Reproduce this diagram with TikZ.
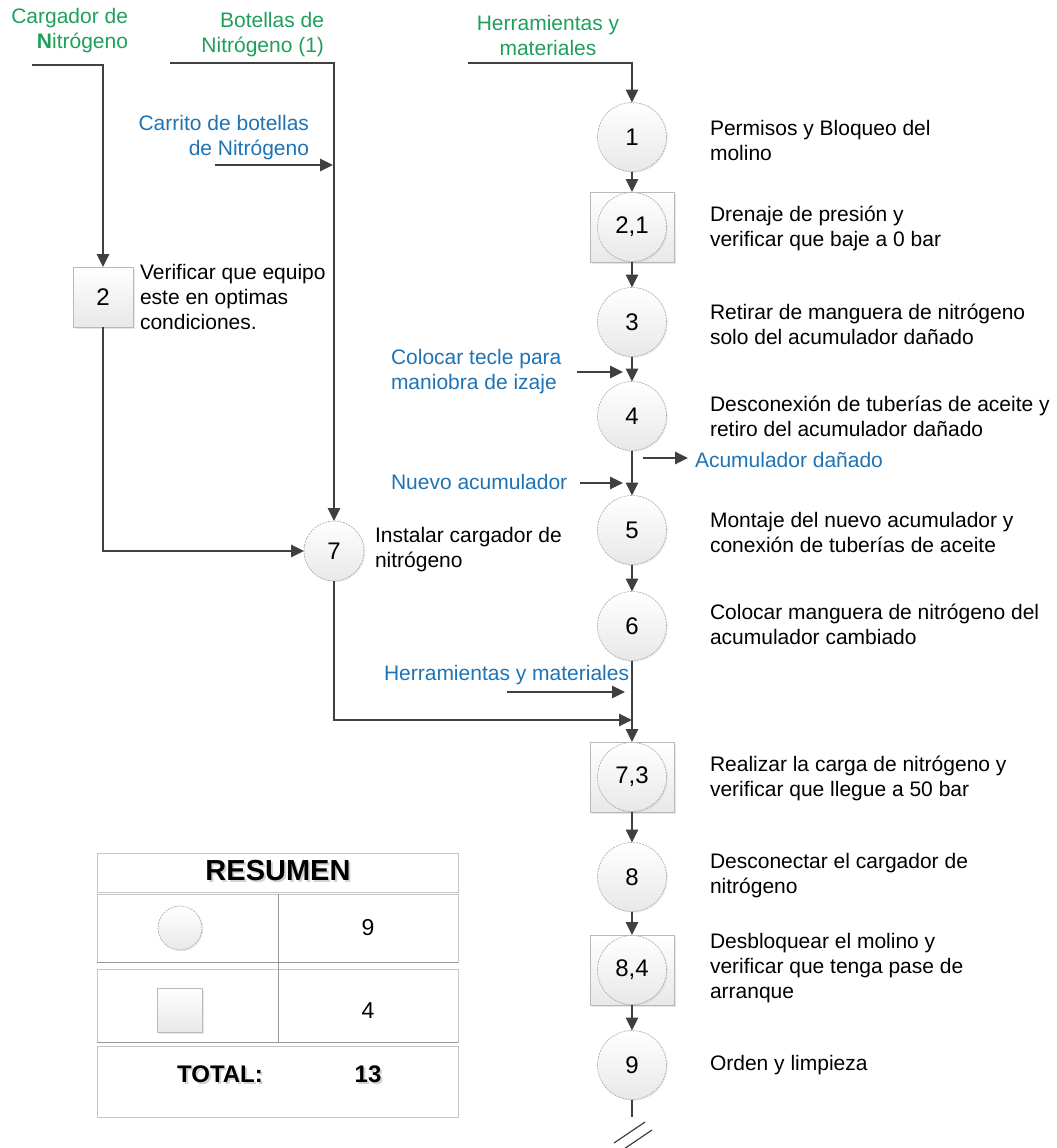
\documentclass[tikz,border=0pt]{standalone}
\usepackage{fontspec}
\setmainfont{Liberation Sans}
\usetikzlibrary{arrows.meta,shadows}
\definecolor{lblgreen}{RGB}{30,160,90}
\definecolor{lblblue}{RGB}{30,115,180}
\definecolor{linegray}{RGB}{64,64,64}
% bold text with a soft offset shadow underneath, set as one piece of text
\newcommand{\shadowtext}[1]{\makebox[0pt][l]{\hspace{2pt}\raisebox{-2pt}{\textcolor{gray!35}{#1}}}#1}
\begin{document}
\begin{tikzpicture}[x=1pt,y=-1pt,
  every node/.style={font=\fontsize{21}{25}\selectfont, inner sep=0pt, outer sep=0pt},
  flow/.style={draw=linegray, line width=1.4pt},
  arr/.style={flow, -{Triangle[length=13pt,width=12.5pt]}},
  opshade/.style={top color=white, bottom color=black!9},
  opcircle/.style={circle, minimum size=69pt, draw=gray!70, line width=0.6pt,
    dash pattern=on 2pt off 1pt, opshade, font=\fontsize{24}{25}\selectfont,
    drop shadow={opacity=0.15, shadow xshift=1.2pt, shadow yshift=-1.2pt}},
  smallcircle/.style={opcircle, minimum size=60pt},
  opbox/.style={rectangle, minimum width=84pt, minimum height=70pt, draw=gray!55,
    line width=0.6pt, opshade,
    drop shadow={opacity=0.2, shadow xshift=1.5pt, shadow yshift=-1.5pt}},
  inspbox/.style={rectangle, minimum width=60pt, minimum height=60pt, draw=gray!55,
    line width=0.6pt, opshade, font=\fontsize{24}{25}\selectfont,
    drop shadow={opacity=0.2, shadow xshift=1.5pt, shadow yshift=-1.5pt}},
  desc/.style={anchor=west, align=left},
  inlabel/.style={text=lblgreen},
  extlabel/.style={text=lblblue},
  tblline/.style={draw=gray!45, line width=0.9pt},
  tbldark/.style={draw=gray!80, line width=0.9pt},
]
\useasboundingbox (0,0) rectangle (1057,1148);

% ---------- main column ----------
\node[opcircle] (c1) at (632,137) {1};
\node[opbox] (s21) at (632,227) {};
\node[opcircle] (s21c) at (632,227) {2,1};
\node[opcircle] (c3) at (632,322) {3};
\node[opcircle] (c4) at (632,416) {4};
\node[opcircle] (c5) at (632,530) {5};
\node[opcircle] (c6) at (632,626) {6};
\node[opbox] (s73) at (632,777) {};
\node[opcircle] (s73c) at (632,777) {7,3};
\node[opcircle] (c8) at (632,877) {8};
\node[opbox] (s84) at (632,970) {};
\node[opcircle] (s84c) at (632,970) {8,4};
\node[opcircle] (c9) at (632,1065) {9};

% ---------- left branches ----------
\node[inspbox] (s2) at (103,297) {2};
\node[smallcircle] (c7) at (334,551) {7};

% ---------- descriptions ----------
\node[desc] (t1) at (710,140) {Permisos y Bloqueo del\\molino};
\node[desc] (t21) at (710,228) {Drenaje de presión y\\verificar que baje a 0 bar};
\node[desc] (t3) at (710,324) {Retirar de manguera de nitrógeno\\solo del acumulador dañado};
\node[desc] (t4) at (710,416) {Desconexión de tuberías de aceite y\\retiro del acumulador dañado};
\node[desc] (t5) at (710,532) {Montaje del nuevo acumulador y\\conexión de tuberías de aceite};
\node[desc] (t6) at (710,624) {Colocar manguera de nitrógeno del\\acumulador cambiado};
\node[desc] (t73) at (710,778) {Realizar la carga de nitrógeno y\\verificar que llegue a 50 bar};
\node[desc] (t8) at (710,876) {Desconectar el cargador de\\nitrógeno};
\node[desc] (t84) at (710,968) {Desbloquear el molino y\\verificar que tenga pase de\\arranque};
\node[desc] (t9) at (710,1065) {Orden y limpieza};
\node[desc] (t2) at (140,297) {Verificar que equipo\\este en optimas\\condiciones.};
\node[desc] (t7) at (375,550) {Instalar cargador de\\nitrógeno};

% ---------- inputs (green) ----------
\node[inlabel, anchor=east, align=right] (lcarg) at (128,31) {Cargador de\\\textbf{N}itrógeno};
\node[inlabel, anchor=east, align=right] (lbot) at (324,35) {Botellas de\\Nitrógeno (1)};
\node[inlabel, align=center] (lherr) at (548,35) {Herramientas y\\materiales};

% ---------- external items (blue) ----------
\node[extlabel, anchor=east, align=right] (lcarr) at (309,138) {Carrito de botellas\\de Nitrógeno};
\node[extlabel, desc] (ltecle) at (391,372) {Colocar tecle para\\maniobra de izaje};
\node[extlabel, desc] (lnuevo) at (391,482) {Nuevo acumulador};
\node[extlabel, desc] (lherr2) at (384,675) {Herramientas y materiales};
\node[extlabel, desc] (ldan) at (695,460) {Acumulador dañado};

% ---------- connector end points ----------
\coordinate (h0) at (468,63);
\coordinate (b0) at (170,63);
\coordinate (g0) at (32,65);
\coordinate (k0) at (215,165);
\coordinate (k1) at (333,165);
\coordinate (te0) at (577,372);
\coordinate (te1) at (623,372);
\coordinate (nu0) at (580,483);
\coordinate (nu1) at (623,483);
\coordinate (da0) at (643,458);
\coordinate (da1) at (688,458);
\coordinate (he0) at (507,692);
\coordinate (he1) at (625,692);
\coordinate (j73) at (632,720);
\coordinate (brk) at (632,1117);

% ---------- connectors ----------
\draw[arr] (h0) -| (c1);
\draw[arr] (c1) -- (s21);
\draw[arr] (s21) -- (c3);
\draw[arr] (c3) -- (c4);
\draw[arr] (c4) -- (c5);
\draw[arr] (c5) -- (c6);
\draw[arr] (c6) -- (s73);
\draw[arr] (s73) -- (c8);
\draw[arr] (c8) -- (s84);
\draw[arr] (s84) -- (c9);
\draw[flow] (c9) -- (brk);
\draw[flow, line width=1.2pt] (614,1143) -- (645,1122);
\draw[flow, line width=1.2pt] (621,1151) -- (652,1130);

\draw[arr] (g0) -| (s2);
\draw[arr] (b0) -| (c7);
\draw[arr] (k0) -- (k1);
\draw[arr] (s2) |- (c7);
\draw[arr] (c7) |- (j73);

\draw[arr] (te0) -- (te1);
\draw[arr] (nu0) -- (nu1);
\draw[arr] (da0) -- (da1);
\draw[arr] (he0) -- (he1);

% ---------- summary table ----------
\draw[tblline] (97,853) rectangle (458,892);
\draw[tblline] (97,894) rectangle (458,962);
\draw[tblline] (97,969) rectangle (458,1042);
\draw[tblline] (97,1046) rectangle (458,1117);
\draw[tbldark] (97,962) -- (458,962);
\draw[tbldark] (97,1042) -- (458,1042);
\draw[draw=gray!80, line width=0.8pt] (278,894) -- (278,1042);

\node[font=\fontsize{29}{30}\selectfont\bfseries] (tres) at (278,872) {\shadowtext{RESUMEN}};
\node[opcircle, minimum size=44pt] (ic) at (180,928) {};
\node[inspbox, minimum width=45pt, minimum height=44pt] (is) at (180,1010) {};
\node[font=\fontsize{23}{25}\selectfont] (n9) at (368,928) {9};
\node[font=\fontsize{23}{25}\selectfont] (n4) at (368,1011) {4};
\node[font=\fontsize{24}{25}\selectfont\bfseries] (ttot) at (220,1075) {\shadowtext{TOTAL:}};
\node[font=\fontsize{24}{25}\selectfont\bfseries] (n13) at (368,1075) {\shadowtext{13}};
\end{tikzpicture}
\end{document}
